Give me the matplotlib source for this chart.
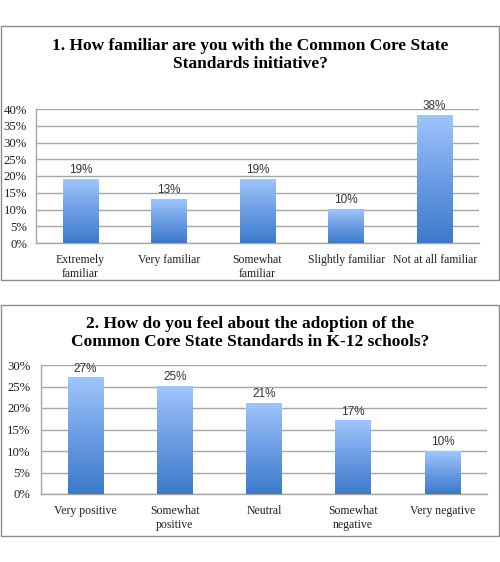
import numpy as np
import matplotlib.pyplot as plt
from matplotlib.patches import Rectangle
from matplotlib.colors import LinearSegmentedColormap

# Survey data
q1_title = "1. How familiar are you with the Common Core State\nStandards initiative?"
q1_labels = ["Extremely\nfamiliar", "Very familiar", "Somewhat\nfamiliar", "Slightly familiar", "Not at all familiar"]
q1_values = [19, 13, 19, 10, 38]
q1_ticks = [0, 5, 10, 15, 20, 25, 30, 35, 40]

q2_title = "2. How do you feel about the adoption of the\nCommon Core State Standards in K-12 schools?"
q2_labels = ["Very positive", "Somewhat\npositive", "Neutral", "Somewhat\nnegative", "Very negative"]
q2_values = [27, 25, 21, 17, 10]
q2_ticks = [0, 5, 10, 15, 20, 25, 30]

W, H = 500, 562
grad = LinearSegmentedColormap.from_list("bar", ["#3d7acb", "#6b9de3", "#a0c5fb"])
serif = "Liberation Serif"
sans = "Liberation Sans"

fig = plt.figure(figsize=(5, 5.62), dpi=100)


def px_axes(left, top, right, bottom):
    return fig.add_axes([left / W, 1 - bottom / H, (right - left) / W, (bottom - top) / H])


def panel_border(top, bottom):
    fig.patches.append(Rectangle((0.5 / W, 1 - bottom / H), 498.5 / W, (bottom - top) / H,
                                 transform=fig.transFigure, fill=False,
                                 edgecolor="#8c8c8c", lw=1.0))


def draw_chart(ax, labels, values, ticks, title, title_y, ypad):
    x = np.arange(len(values))
    w = 0.4
    ymax = ticks[-1]
    for xi, v in zip(x, values):
        img = np.linspace(0, 1, 256).reshape(-1, 1)
        ax.imshow(img, cmap=grad, origin="lower", aspect="auto",
                  extent=(xi - w / 2, xi + w / 2, 0, v), zorder=3)
        ax.text(xi, v + ymax * 0.025, f"{v}%", ha="center", va="bottom",
                fontsize=8.5, family=sans, color="#333333", zorder=4)
    ax.set_xlim(-0.5, len(values) - 0.5)
    ax.set_ylim(0, ymax)
    ax.set_yticks(ticks)
    ax.set_yticklabels([f"{t}%" for t in ticks], family=serif, fontsize=9.2)
    ax.set_xticks(x)
    ax.set_xticklabels(labels, family=serif, fontsize=8.5, linespacing=1.25)
    ax.tick_params(axis="both", length=0, colors="#222222")
    ax.tick_params(axis="y", pad=ypad)
    ax.tick_params(axis="x", pad=8)
    ax.grid(axis="y", color="#a6a6a6", lw=1.0, zorder=0)
    ax.set_axisbelow(True)
    for s in ["top", "right"]:
        ax.spines[s].set_visible(False)
    for s in ["left", "bottom"]:
        ax.spines[s].set_color("#a6a6a6")
        ax.spines[s].set_linewidth(1.0)
    fig.text(0.5, 1 - title_y / H, title, ha="center", va="center",
             family=serif, fontweight="bold", fontsize=12.5, linespacing=1.2)


panel_border(26, 280)
ax1 = px_axes(36, 109, 479, 243)
draw_chart(ax1, q1_labels, q1_values, q1_ticks, q1_title, 55, 6.5)

panel_border(305, 536)
ax2 = px_axes(41, 365, 487, 494)
draw_chart(ax2, q2_labels, q2_values, q2_ticks, q2_title, 333, 7.5)

fig.savefig("out.png", dpi=100)
